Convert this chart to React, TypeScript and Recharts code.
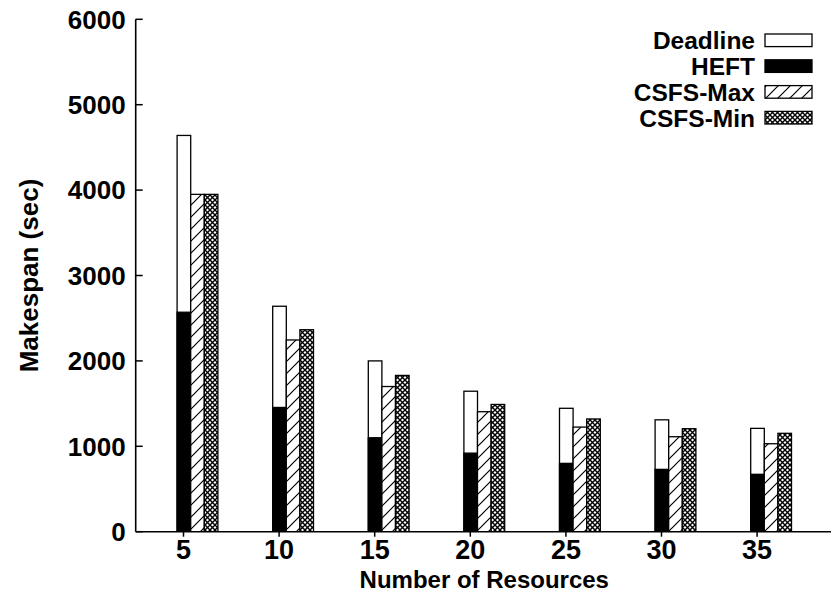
import { BarChart, Bar, XAxis, YAxis } from 'recharts';

// Makespan per number of resources
const resources = ['5', '10', '15', '20', '25', '30', '35'];
const deadline = [4640, 2640, 2000, 1645, 1445, 1310, 1210];
const heft = [2570, 1455, 1100, 920, 800, 730, 672];
const csfsMax = [3950, 2245, 1700, 1405, 1225, 1112, 1030];
const csfsMin = [3950, 2365, 1830, 1490, 1320, 1206, 1152];
const yTicks = [0, 1000, 2000, 3000, 4000, 5000, 6000];
const seriesNames = ['Deadline', 'HEFT', 'CSFS-Max', 'CSFS-Min'];

const data = resources.map((r, i) => ({
  resources: r,
  deadline: deadline[i],
  heft: heft[i],
  csfsMax: csfsMax[i],
  csfsMin: csfsMin[i],
}));

const FONT = '"Liberation Sans", Arial, Helvetica, sans-serif';
const BAR_W = 13.6;

const Patterns = ({ prefix }: { prefix: string }) => (
  <defs>
    <pattern id={`${prefix}-hatch`} patternUnits="userSpaceOnUse" width={12} height={12}>
      <rect width={12} height={12} fill="#fff" />
      <path d="M0,12 L12,0 M-3,3 L3,-3 M9,15 L15,9" stroke="#000" strokeWidth={1.2} />
    </pattern>
    <pattern id={`${prefix}-cross`} patternUnits="userSpaceOnUse" width={5} height={5}>
      <rect width={5} height={5} fill="#fff" />
      <path d="M0,0 L5,5 M5,0 L0,5" stroke="#000" strokeWidth={1.4} />
    </pattern>
  </defs>
);

// gnuplot-style layout: the Deadline/HEFT pair sits on the tick, the CSFS bars follow to the right
const shifted = (shift: number, fill: string) => (props: any) => {
  const { x, y, width, height } = props;
  if (!height) return <g />;
  return (
    <rect
      x={x + shift * width}
      y={y}
      width={width}
      height={height}
      fill={fill}
      stroke="#000"
      strokeWidth={1.3}
    />
  );
};

const YTick = (props: any) => {
  const { x, y, payload } = props;
  return (
    <g>
      <line x1={x + 10} x2={x + 17} y1={y} y2={y} stroke="#000" strokeWidth={1.5} />
      <text x={x} y={y} dy="0.36em" textAnchor="end" fontFamily={FONT} fontSize={26} fontWeight="bold" fill="#000">
        {payload.value}
      </text>
    </g>
  );
};

const YLabel = (props: any) => {
  const { viewBox } = props;
  const cx = viewBox.x - 38;
  const cy = viewBox.y + viewBox.height / 2;
  return (
    <text
      x={cx}
      y={cy}
      transform={`rotate(-90, ${cx}, ${cy})`}
      textAnchor="middle"
      fontFamily={FONT}
      fontSize={26}
      fontWeight="bold"
      fill="#000"
    >
      Makespan (sec)
    </text>
  );
};

const legendFills = ['#fff', '#000', 'url(#lg-hatch)', 'url(#lg-cross)'];

const Legend = () => (
  <svg width={831} height={140} style={{ position: 'absolute', left: 0, top: 0, pointerEvents: 'none' }}>
    <Patterns prefix="lg" />
    {seriesNames.map((name, i) => {
      const cy = 40.3 + i * 25.8;
      return (
        <g key={name}>
          <text x={755} y={cy + 8.8} textAnchor="end" fontFamily={FONT} fontSize={24.5} fontWeight="bold" fill="#000">
            {name}
          </text>
          <rect x={765} y={cy - 6.3} width={47} height={12.6} fill={legendFills[i]} stroke="#000" strokeWidth={1.3} />
        </g>
      );
    })}
  </svg>
);

export default function App() {
  return (
    <div style={{ position: 'fixed', left: 0, top: 0, width: 831, height: 596, overflow: 'hidden', background: '#fff' }}>
      <BarChart
        width={841}
        height={596}
        data={data}
        margin={{ top: 19.3, right: 8.2, bottom: 4.3, left: 75.7 }}
        barGap={0}
        barSize={BAR_W}
      >
        <Patterns prefix="ch" />
        <XAxis
          dataKey="resources"
          height={60}
          padding={{ left: 0, right: 27.9 }}
          stroke="#000"
          axisLine={{ stroke: '#000', strokeWidth: 1.6 }}
          tickLine={{ stroke: '#000', strokeWidth: 1.5 }}
          tickSize={5}
          tickMargin={3}
          tick={{ fill: '#000', fontFamily: FONT, fontSize: 27, fontWeight: 'bold' }}
          label={{
            value: 'Number of Resources',
            position: 'insideBottom',
            offset: 4,
            fill: '#000',
            fontFamily: FONT,
            fontSize: 24,
            fontWeight: 'bold',
          }}
        />
        <XAxis
          xAxisId="top"
          dataKey="resources"
          orientation="top"
          mirror
          height={0}
          padding={{ left: 0, right: 27.9 }}
          axisLine={{ stroke: '#000', strokeWidth: 1.6 }}
          tickLine={{ stroke: '#000', strokeWidth: 1.5 }}
          tickSize={6}
          tickFormatter={() => ''}
        />
        <YAxis
          width={60}
          domain={[0, 6000]}
          ticks={yTicks}
          allowDataOverflow
          axisLine={{ stroke: '#000', strokeWidth: 1.6 }}
          tickLine={false}
          tickSize={0}
          tickMargin={10}
          tick={<YTick />}
          label={<YLabel />}
        />
        <YAxis
          yAxisId="right"
          orientation="right"
          mirror
          width={0}
          domain={[0, 6000]}
          ticks={yTicks}
          axisLine={{ stroke: '#000', strokeWidth: 1.6 }}
          tickLine={{ stroke: '#000', strokeWidth: 1.5 }}
          tickSize={7}
          tickFormatter={() => ''}
        />
        <Bar dataKey="deadline" name={seriesNames[0]} shape={shifted(1.5, '#fff')} isAnimationActive={false} />
        <Bar dataKey="heft" name={seriesNames[1]} shape={shifted(0.5, '#000')} isAnimationActive={false} />
        <Bar dataKey="csfsMax" name={seriesNames[2]} shape={shifted(0.5, 'url(#ch-hatch)')} isAnimationActive={false} />
        <Bar dataKey="csfsMin" name={seriesNames[3]} shape={shifted(0.5, 'url(#ch-cross)')} isAnimationActive={false} />
      </BarChart>
      <Legend />
    </div>
  );
}
